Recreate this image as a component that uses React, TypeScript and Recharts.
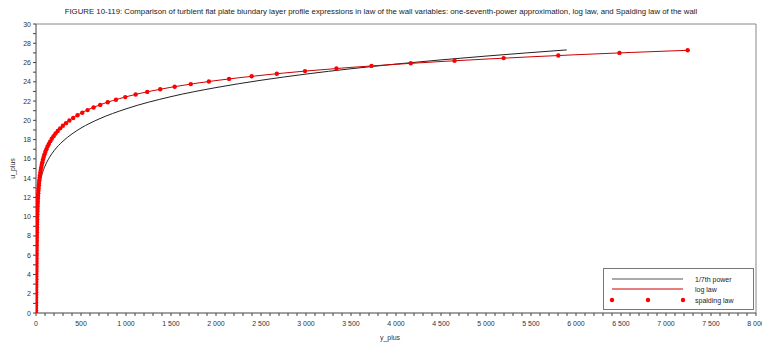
import React from "react";
import { ComposedChart, Line, XAxis, YAxis, ReferenceLine, Legend } from "recharts";

// spalding law of the wall: y+ and u+ of each marker
const spaldingYPlus = [
  0, 0.27, 0.54, 0.81, 1.08, 1.35, 1.62, 1.89, 2.16, 2.44, 2.71, 2.98, 3.26, 3.53,
  3.81, 4.1, 4.38, 4.67, 4.96, 5.26, 5.57, 5.88, 6.2, 6.54, 6.88, 7.23, 7.6, 7.99,
  8.4, 8.83, 9.29, 9.77, 10.29, 10.84, 11.44, 12.08, 12.78, 13.54, 14.37, 15.27,
  16.26, 17.35, 18.54, 19.86, 21.32, 22.93, 24.71, 26.69, 28.88, 31.32, 34.03,
  37.05, 40.41, 44.15, 48.33, 52.98, 58.17, 63.96, 70.42, 77.64, 85.7, 94.69,
  104.7, 116.0, 128.5, 142.5, 158.2, 175.6, 195.2, 217.0, 241.4, 268.6, 299.1,
  333.1, 371.1, 413.6, 461.1, 514.1, 573.4, 639.6, 713.6, 796.3, 888.6, 991.8,
  1107, 1236, 1380, 1541, 1720, 1921, 2145, 2396, 2676, 2989, 3338, 3728, 4164,
  4651, 5196, 5803, 6483, 7241,
];
const spaldingUPlus = [
  0, 0.27, 0.54, 0.81, 1.08, 1.35, 1.62, 1.89, 2.16, 2.43, 2.7, 2.97, 3.24, 3.51,
  3.78, 4.05, 4.32, 4.59, 4.86, 5.13, 5.4, 5.67, 5.94, 6.21, 6.48, 6.75, 7.02, 7.29,
  7.56, 7.83, 8.1, 8.37, 8.64, 8.91, 9.18, 9.45, 9.72, 9.99, 10.26, 10.53, 10.8,
  11.07, 11.34, 11.61, 11.88, 12.15, 12.42, 12.69, 12.96, 13.23, 13.5, 13.77,
  14.04, 14.31, 14.58, 14.85, 15.12, 15.39, 15.66, 15.93, 16.2, 16.47, 16.74,
  17.01, 17.28, 17.55, 17.82, 18.09, 18.36, 18.63, 18.9, 19.17, 19.44, 19.71,
  19.98, 20.25, 20.52, 20.79, 21.06, 21.33, 21.6, 21.87, 22.14, 22.41, 22.68,
  22.95, 23.22, 23.49, 23.76, 24.03, 24.3, 24.57, 24.84, 25.11, 25.38, 25.65,
  25.92, 26.19, 26.46, 26.73, 27.0, 27.27,
];

// log law
const logYPlus = [1, 2, 5, 10, 20, 40, 70, 100, 150, 200, 300, 400, 500, 700, 1000, 1500, 2000, 2500, 3000, 4000, 5000, 6000, 7241];
const logUPlus = [5.59, 7.28, 9.52, 11.21, 12.9, 14.59, 15.95, 16.82, 17.81, 18.51, 19.5, 20.2, 20.75, 21.57, 22.44, 23.43, 24.13, 24.67, 25.12, 25.82, 26.36, 26.81, 27.27];

// one-seventh power approximation
const powerYPlus = [0, 0.01, 0.1, 1, 5, 10, 20, 40, 70, 100, 150, 200, 300, 400, 500, 700, 1000, 1500, 2000, 2500, 3000, 4000, 5000, 5897];
const powerUPlus = [0, 4.09, 5.69, 7.9, 9.94, 10.98, 12.12, 13.38, 14.5, 15.25, 16.16, 16.84, 17.84, 18.59, 19.2, 20.14, 21.19, 22.46, 23.4, 24.16, 24.8, 25.84, 26.67, 27.31];

const xTicks = Array.from({ length: 81 }, (_, i) => i * 100);
const yTicks = Array.from({ length: 31 }, (_, i) => i);

const title =
  "FIGURE 10-119: Comparison of turblent flat plate biundary layer profile expressions in law of the wall variables: one-seventh-power approximation, log law, and Spalding law of the wall";

const zip = (ys: number[], us: number[]) => ys.map((y, i) => ({ y, u: us[i] }));
const spalding = zip(spaldingYPlus, spaldingUPlus);
const logLaw = zip(logYPlus, logUPlus);
const power = zip(powerYPlus, powerUPlus);

const FONT = "'Liberation Sans', Arial, sans-serif";
const AXIS = "#444";

function fmtX(n: number) {
  if (n < 1000) return String(n);
  return `${Math.floor(n / 1000)} ${String(n % 1000).padStart(3, "0")}`;
}

const XTick = (props: any) => {
  const { x, y, payload } = props;
  if (payload.value % 500 !== 0) return <g />;
  return (
    <text x={x} y={y + 8} textAnchor="middle" fontSize={7} fill="#333" fontFamily={FONT}>
      {fmtX(payload.value)}
    </text>
  );
};

const YTick = (props: any) => {
  const { x, y, payload } = props;
  if (payload.value % 2 !== 0) return <g />;
  return (
    <text x={x} y={y + 2.5} textAnchor="end" fontSize={7} fill="#333" fontFamily={FONT}>
      {payload.value}
    </text>
  );
};

const LegendBox = () => (
  <svg width={151} height={42} style={{ display: "block" }}>
    <rect x={0.5} y={0.5} width={150} height={41} fill="#fff" stroke="#777" />
    <line x1={9} y1={11} x2={80} y2={11} stroke="#555" strokeWidth={1} />
    <text x={92} y={13.5} fontSize={7} fill="#222" fontFamily={FONT}>1/7th power</text>
    <line x1={9} y1={21} x2={80} y2={21} stroke="#cc0000" strokeWidth={1} />
    <text x={92} y={23.5} fontSize={7} fill="#222" fontFamily={FONT}>log law</text>
    <circle cx={9} cy={32} r={2.2} fill="#ff0000" />
    <circle cx={45} cy={32} r={2.2} fill="#ff0000" />
    <circle cx={80} cy={32} r={2.2} fill="#ff0000" />
    <text x={92} y={34.5} fontSize={7} fill="#222" fontFamily={FONT}>spalding law</text>
  </svg>
);

export default function App() {
  return (
    <div style={{ position: "absolute", left: 0, top: 0, width: 762, height: 345, background: "#fff" }}>
      <div
        style={{
          position: "absolute",
          left: 0,
          top: 7,
          width: 762,
          textAlign: "center",
          fontFamily: FONT,
          fontSize: 7.8,
          color: "#222",
          whiteSpace: "nowrap",
        }}
      >
        {title}
      </div>
      <ComposedChart width={762} height={345} margin={{ top: 24, right: 6, left: 0, bottom: 0 }}>
        <XAxis
          dataKey="y"
          type="number"
          domain={[0, 8000]}
          ticks={xTicks}
          interval={0}
          allowDataOverflow
          tick={<XTick />}
          tickSize={3}
          stroke={AXIS}
          height={32}
          label={{ value: "y_plus", position: "center", dy: 9, dx: -6, fontSize: 7, fill: "#333", fontFamily: FONT }}
        />
        <YAxis
          dataKey="u"
          type="number"
          domain={[0, 30]}
          ticks={yTicks}
          interval={0}
          allowDataOverflow
          tick={<YTick />}
          tickSize={3}
          stroke={AXIS}
          width={36}
          label={{ value: "u_plus", angle: -90, position: "center", dx: -5, fontSize: 7, fill: "#333", fontFamily: FONT }}
        />
        <ReferenceLine y={30} stroke="#888" strokeWidth={1} />
        <ReferenceLine x={8000} stroke="#888" strokeWidth={1} />
        <Legend
          layout="vertical"
          align="center"
          verticalAlign="middle"
          content={<LegendBox />}
          wrapperStyle={{ position: "absolute", left: 603, top: 268, width: 151, height: 42 }}
        />
        <Line
          data={power}
          dataKey="u"
          name="1/7th power"
          type="monotone"
          stroke="#222"
          strokeWidth={1}
          dot={false}
          isAnimationActive={false}
        />
        <Line
          data={logLaw}
          dataKey="u"
          name="log law"
          type="monotone"
          stroke="#cc0000"
          strokeWidth={1}
          dot={false}
          isAnimationActive={false}
        />
        <Line
          data={spalding}
          dataKey="u"
          name="spalding law"
          stroke="none"
          dot={{ r: 2.2, fill: "#ff0000", stroke: "none" }}
          isAnimationActive={false}
        />
      </ComposedChart>
    </div>
  );
}
